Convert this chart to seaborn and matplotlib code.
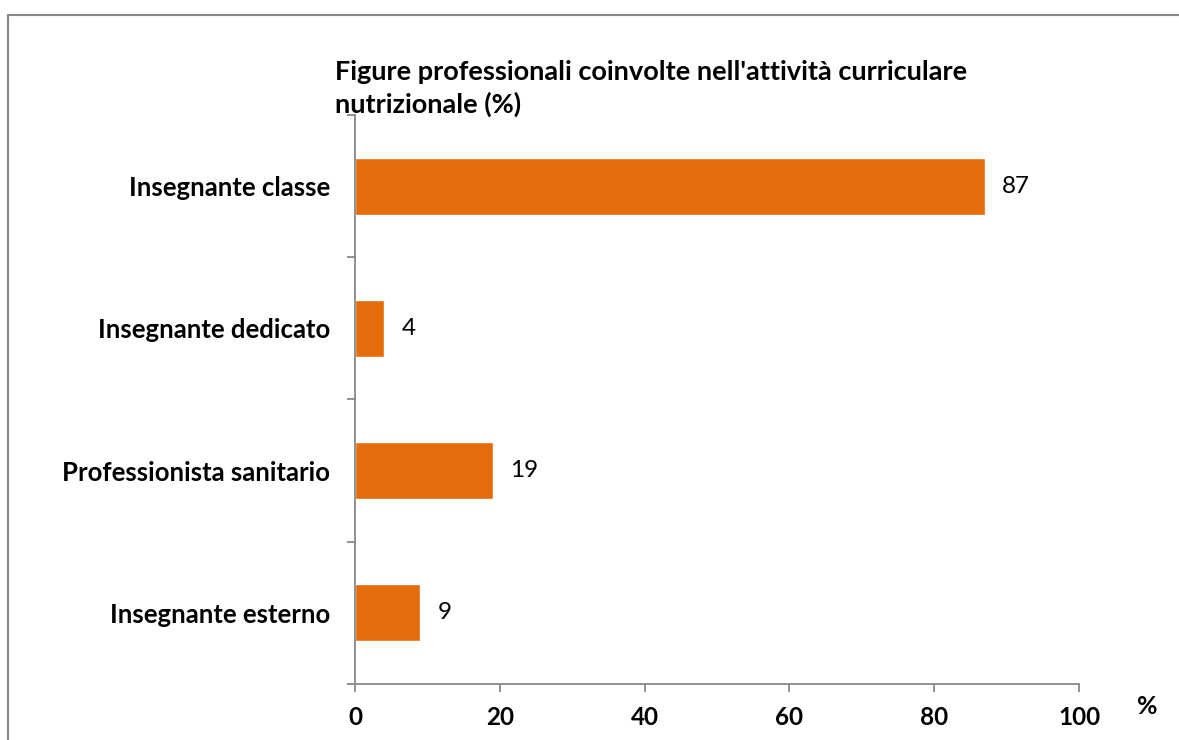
import pandas as pd
import seaborn as sns
import matplotlib.pyplot as plt
from matplotlib.lines import Line2D

categories = ["Insegnante classe", "Insegnante dedicato", "Professionista sanitario", "Insegnante esterno"]
values = [87, 4, 19, 9]
x_ticks = [0, 20, 40, 60, 80, 100]
title = "Figure professionali coinvolte nell'attività curriculare\nnutrizionale (%)"

data = pd.DataFrame({"Figura": categories, "Percentuale": values})

sns.set_style("white")
plt.rcParams["font.family"] = ["Lato", "DejaVu Sans"]
plt.rcParams["text.color"] = "black"
plt.rcParams["xtick.labelcolor"] = "black"
plt.rcParams["ytick.labelcolor"] = "black"

fig = plt.figure(figsize=(11.79, 7.40), dpi=100)
ax = fig.add_axes([0.3011, 0.0757, 0.6141, 0.7689])

sns.barplot(x="Percentuale", y="Figura", data=data, color="#E46C0A",
            width=0.4, saturation=1, ax=ax, orient="h")

# value labels
for i, v in enumerate(values):
    ax.text(v + 2.4, i, str(v), va="center", ha="left", fontsize=17.5, color="black")

ax.set_xlim(0, 100)
ax.set_ylim(3.5, -0.5)
ax.set_xticks(x_ticks)
ax.set_xticklabels([str(t) for t in x_ticks], fontsize=17.5, fontweight="bold")
ax.set_yticks(range(len(categories)))
ax.set_yticklabels(categories, fontsize=18.5, fontweight="bold")
ax.set_yticks([-0.5, 0.5, 1.5, 2.5, 3.5], minor=True)
ax.tick_params(axis="y", which="major", length=0, pad=18)
ax.tick_params(axis="y", which="minor", length=6, width=1.3, color="#888888", direction="out", left=True)
ax.tick_params(axis="x", which="major", length=6, width=1.3, color="#888888", direction="out", pad=10, bottom=True)
ax.set_xlabel("")
ax.set_ylabel("")

for s in ["top", "right"]:
    ax.spines[s].set_visible(False)
for s in ["left", "bottom"]:
    ax.spines[s].set_color("#888888")
    ax.spines[s].set_linewidth(1.3)

fig.text(0.284, 1 - 60 / 740, title, ha="left", va="top", fontsize=19.5, fontweight="bold",
         linespacing=1.35)
fig.text(1147 / 1179, 1 - 707 / 740, "%", ha="center", va="center", fontsize=18, fontweight="bold")

# outer chart frame (cut off at right and bottom)
fig.add_artist(Line2D([8 / 1179, 1.0], [1 - 15 / 740, 1 - 15 / 740], color="#888888", linewidth=1.5))
fig.add_artist(Line2D([8 / 1179, 8 / 1179], [0.0, 1 - 15 / 740], color="#888888", linewidth=1.5))

plt.savefig("out.png", dpi=100)
